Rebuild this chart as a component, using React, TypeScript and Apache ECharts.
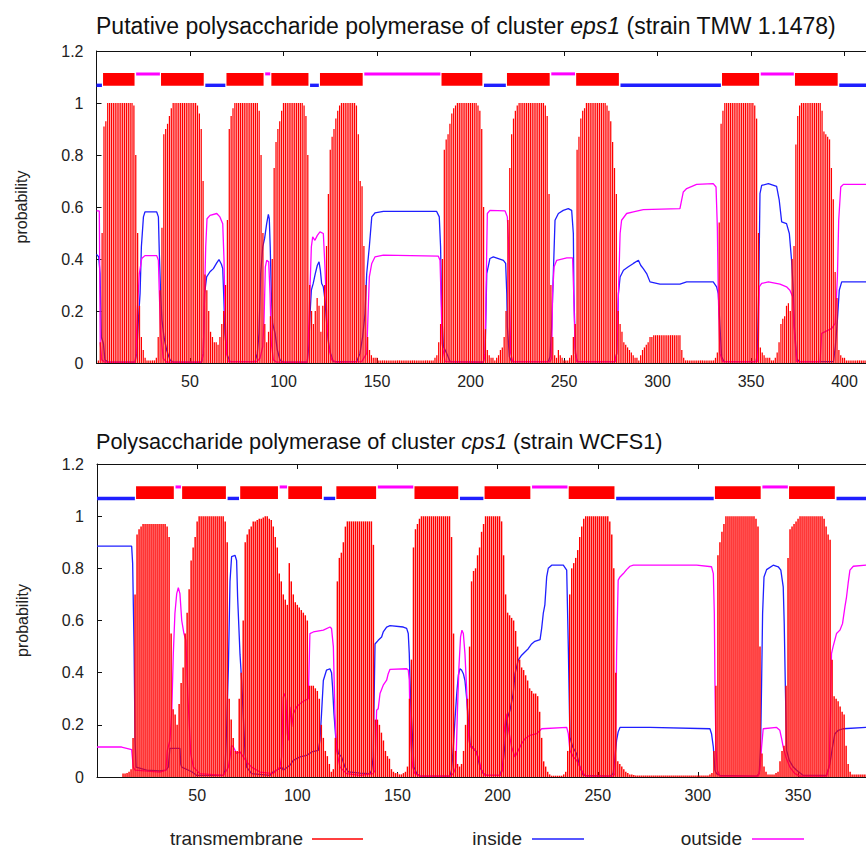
import React, { useEffect, useRef } from 'react';
import * as echarts from 'echarts';

// ---------- DATA ----------
const topTitleMain = 'Putative polysaccharide polymerase of cluster ';
const topTitleItalic = 'eps1';
const topTitleEnd = ' (strain TMW 1.1478)';
const bottomTitleMain = 'Polysaccharide polymerase of cluster ';
const bottomTitleItalic = 'cps1';
const bottomTitleEnd = ' (strain WCFS1)';
const legendNames = ['transmembrane', 'inside', 'outside'];

// transmembrane probability per residue (residue 1..420), eps1 protein
const topTM: number[] = [
  0.01, 0.08, 0.5, 0.91, 0.93, 1.0, 1.0, 1.0, 1.0, 1.0,
  1.0, 1.0, 1.0, 1.0, 1.0, 1.0, 1.0, 1.0, 1.0, 0.99,
  0.8, 0.5, 0.22, 0.1, 0.05, 0.02, 0.01, 0.01, 0.01, 0.01,
  0.01, 0.02, 0.1, 0.28, 0.52, 0.88, 0.9, 0.92, 0.95, 0.98,
  1.0, 1.0, 1.0, 1.0, 1.0, 1.0, 1.0, 1.0, 1.0, 1.0,
  1.0, 1.0, 1.0, 0.99, 0.96, 0.9, 0.7, 0.34, 0.28, 0.2,
  0.12, 0.1, 0.08, 0.08, 0.07, 0.1, 0.15, 0.2, 0.3, 0.55,
  0.9, 0.95, 0.98, 1.0, 1.0, 1.0, 1.0, 1.0, 1.0, 1.0,
  1.0, 1.0, 1.0, 1.0, 1.0, 1.0, 0.97, 0.8, 0.5, 0.15,
  0.08, 0.12, 0.18, 0.4, 0.75, 0.85, 0.9, 0.93, 0.97, 1.0,
  1.0, 1.0, 1.0, 1.0, 1.0, 1.0, 1.0, 1.0, 1.0, 1.0,
  0.99, 0.95, 0.8, 0.3, 0.2, 0.15, 0.2, 0.25, 0.22, 0.12,
  0.22, 0.3, 0.45, 0.65, 0.82, 0.87, 0.9, 0.94, 0.97, 0.99,
  1.0, 1.0, 1.0, 1.0, 1.0, 1.0, 1.0, 1.0, 0.99, 0.88,
  0.7, 0.68, 0.45, 0.3, 0.1, 0.05, 0.03, 0.02, 0.02, 0.02,
  0.01, 0.01, 0.01, 0.01, 0.01, 0.01, 0.01, 0.01, 0.01, 0.01,
  0.01, 0.01, 0.01, 0.01, 0.01, 0.01, 0.01, 0.01, 0.01, 0.01,
  0.01, 0.01, 0.01, 0.01, 0.01, 0.01, 0.01, 0.01, 0.01, 0.01,
  0.02, 0.03, 0.08, 0.15, 0.4, 0.82, 0.86, 0.88, 0.92, 0.96,
  0.98, 0.99, 1.0, 1.0, 1.0, 1.0, 1.0, 1.0, 1.0, 1.0,
  1.0, 1.0, 1.0, 0.99, 0.97, 0.9, 0.6, 0.13, 0.05, 0.03,
  0.02, 0.02, 0.01, 0.02, 0.03, 0.05, 0.06, 0.1, 0.2, 0.55,
  0.75, 0.88, 0.94, 0.97, 0.99, 1.0, 1.0, 1.0, 1.0, 1.0,
  1.0, 1.0, 1.0, 1.0, 1.0, 1.0, 1.0, 1.0, 1.0, 0.99,
  0.95, 0.65, 0.3, 0.1, 0.03, 0.02, 0.05, 0.03, 0.02, 0.01,
  0.01, 0.01, 0.02, 0.03, 0.1, 0.15, 0.82, 0.87, 0.94, 0.97,
  0.98, 1.0, 1.0, 1.0, 1.0, 1.0, 1.0, 1.0, 1.0, 1.0,
  1.0, 1.0, 0.99, 0.97, 0.93, 0.85, 0.75, 0.65, 0.2, 0.15,
  0.12, 0.08, 0.07, 0.06, 0.05, 0.04, 0.03, 0.02, 0.02, 0.01,
  0.03, 0.05, 0.06, 0.07, 0.08, 0.1, 0.1, 0.107, 0.107, 0.107,
  0.107, 0.107, 0.107, 0.107, 0.107, 0.107, 0.107, 0.107, 0.107, 0.107,
  0.107, 0.107, 0.05, 0.02, 0.01, 0.01, 0.01, 0.01, 0.01, 0.01,
  0.01, 0.01, 0.01, 0.01, 0.01, 0.01, 0.01, 0.01, 0.01, 0.01,
  0.02, 0.04, 0.54, 0.92, 0.97, 1.0, 1.0, 1.0, 1.0, 1.0,
  1.0, 1.0, 1.0, 1.0, 1.0, 1.0, 1.0, 1.0, 1.0, 1.0,
  1.0, 0.99, 0.94, 0.5, 0.06, 0.04, 0.03, 0.02, 0.02, 0.02,
  0.01, 0.01, 0.02, 0.04, 0.08, 0.15, 0.17, 0.18, 0.22, 0.23,
  0.2, 0.4, 0.45, 0.84, 0.95, 0.99, 1.0, 1.0, 1.0, 1.0,
  1.0, 1.0, 1.0, 1.0, 1.0, 1.0, 1.0, 0.97, 0.89, 0.88,
  0.87, 0.86, 0.75, 0.63, 0.35, 0.25, 0.05, 0.03, 0.02, 0.02,
  0.01, 0.01, 0.01, 0.01, 0.01, 0.01, 0.01, 0.01, 0.01, 0.01,
  0.01, 0.01, 0.01, 0.01, 0.01, 0.01, 0.01, 0.01, 0.01, 0.01,
];

// [residue, probability] breakpoints of the inside / outside curves, eps1 protein
const topInside: number[][] = [
  [0, 0.418], [1.2, 0.408], [1.9, 0.344], [2.6, 0.1], [3.7, 0.075], [4.5, 0.012], [6.3, 0.003],
  [20.6, 0.003], [21.5, 0.037], [22.4, 0.165], [23.3, 0.267], [24, 0.447], [25.1, 0.562], [25.9, 0.581],
  [32.2, 0.581], [33.1, 0.562], [33.6, 0.421], [34.3, 0.267], [35, 0.165], [36.1, 0.1], [37.5, 0.05],
  [39.3, 0.012], [41.1, 0.003], [56.2, 0.003], [57.1, 0.037], [57.8, 0.267], [58.9, 0.331], [60.7, 0.351],
  [62.5, 0.363], [64.3, 0.385], [65.5, 0.398], [66.8, 0.38], [67.5, 0.363], [68, 0.267], [68.7, 0.114],
  [69.6, 0.037], [71.4, 0.005], [84.8, 0.005], [86, 0.037], [86.9, 0.114], [87.8, 0.344], [88.9, 0.447],
  [89.9, 0.479], [91, 0.536], [91.9, 0.572], [92.4, 0.555], [92.9, 0.447], [93.5, 0.267], [94.2, 0.152],
  [95.5, 0.114], [96.7, 0.05], [98.1, 0.012], [99.9, 0.003], [112.7, 0.003], [113.5, 0.063], [114.2, 0.19],
  [114.9, 0.28], [115.9, 0.306], [117, 0.344], [118.1, 0.376], [119, 0.389], [119.7, 0.357], [120.4, 0.306],
  [121.3, 0.293], [122.2, 0.242], [123.1, 0.152], [124.1, 0.075], [125.2, 0.037], [126.6, 0.005],
  [139.1, 0.005], [140.9, 0.037], [142.3, 0.1], [143.6, 0.19], [144.5, 0.344], [145.9, 0.447], [147.2, 0.562],
  [148.9, 0.577], [153.4, 0.583], [181.9, 0.583], [183.3, 0.562], [184, 0.447], [184.6, 0.2], [185.5, 0.063],
  [187.3, 0.037], [189.1, 0.005], [206.9, 0.003], [207.8, 0.037], [208.7, 0.344], [210.4, 0.402],
  [212.2, 0.408], [217.6, 0.395], [218.8, 0.383], [219.4, 0.267], [219.7, 0.14], [220.8, 0.024], [222, 0.005],
  [241.6, 0.005], [242.5, 0.024], [243.4, 0.14], [244.3, 0.344], [245.2, 0.549], [247, 0.575], [249.6, 0.587],
  [252.3, 0.594], [254.1, 0.587], [255, 0.498], [255.3, 0.267], [256.1, 0.037], [257.1, 0.005],
  [277.3, 0.005], [278.2, 0.037], [279.1, 0.267], [280, 0.331], [281.8, 0.357], [284.4, 0.37], [287.1, 0.383],
  [289.8, 0.395], [291, 0.376], [292.4, 0.363], [294.2, 0.344], [296, 0.312], [301.3, 0.303], [312, 0.303],
  [315.6, 0.312], [329.8, 0.312], [331.6, 0.293], [332.5, 0.267], [333.4, 0.14], [334.3, 0.024], [335.6, 0.005],
  [352.7, 0.005], [353.4, 0.037], [354.1, 0.267], [354.8, 0.651], [355.7, 0.683], [359.3, 0.69], [363.7, 0.679],
  [365.1, 0.626], [366.4, 0.543], [369, 0.536], [370.5, 0.498], [371.7, 0.395], [372.6, 0.28], [373.2, 0.14],
  [374.4, 0.018], [375.8, 0.005], [394.1, 0.005], [395.1, 0.063], [396.2, 0.165], [397.2, 0.28],
  [398.5, 0.312], [420, 0.312],
];
const topOutside: number[][] = [
  [0, 0.585], [1.5, 0.585], [2.0, 0.075], [2.8, 0.012], [4.5, 0.003], [20.6, 0.003], [21.1, 0.037],
  [21.8, 0.2], [22.9, 0.344], [24.2, 0.402], [25.9, 0.413], [32.2, 0.413], [33.1, 0.395], [33.6, 0.267],
  [34.3, 0.114], [35.7, 0.018], [37.5, 0.003], [56.2, 0.003], [57.1, 0.037], [57.8, 0.267], [58.4, 0.447],
  [59.1, 0.555], [60.7, 0.568], [64.3, 0.575], [66, 0.562], [67.5, 0.536], [68.2, 0.395], [68.7, 0.2],
  [69.6, 0.037], [70.5, 0.005], [85.6, 0.005], [87.4, 0.018], [88.9, 0.063], [89.6, 0.165], [90.3, 0.37],
  [91, 0.395], [92.1, 0.389], [92.8, 0.267], [93.5, 0.075], [94.6, 0.012], [96.3, 0.003], [112.7, 0.003],
  [113.5, 0.14], [114.2, 0.293], [114.9, 0.447], [115.6, 0.485], [116.8, 0.472], [118.1, 0.491],
  [119.5, 0.504], [121.3, 0.498], [122, 0.395], [122.7, 0.267], [123.4, 0.14], [124.5, 0.05], [125.8, 0.012],
  [128.4, 0.003], [141.8, 0.005], [144.5, 0.037], [145.9, 0.331], [147.2, 0.383], [148.9, 0.408],
  [153.4, 0.415], [182.8, 0.411], [183.7, 0.395], [184.2, 0.267], [184.8, 0.075], [186.4, 0.005],
  [206.9, 0.003], [207.8, 0.037], [208.3, 0.267], [209, 0.575], [210.4, 0.587], [218.5, 0.585],
  [219.7, 0.562], [220.3, 0.472], [220.8, 0.267], [221.5, 0.037], [222.6, 0.005], [242.5, 0.005],
  [243.4, 0.018], [243.9, 0.267], [244.7, 0.37], [246.1, 0.395], [251.5, 0.404], [254.6, 0.404],
  [255.2, 0.267], [255.9, 0.063], [256.8, 0.005], [277.3, 0.005], [278.2, 0.037], [279.1, 0.267],
  [280, 0.498], [280.8, 0.549], [283.5, 0.575], [287.1, 0.581], [292.4, 0.59], [312, 0.594], [312.9, 0.626],
  [313.8, 0.658], [315.6, 0.671], [320.9, 0.687], [329.8, 0.69], [331.3, 0.677], [332, 0.523], [332.5, 0.267],
  [333.4, 0.037], [334.8, 0.005], [353.4, 0.005], [353.9, 0.063], [354.4, 0.293], [355.7, 0.306],
  [359.3, 0.312], [365.5, 0.303], [369, 0.293], [370.8, 0.28], [372.3, 0.255], [373, 0.14], [374.4, 0.005],
  [386.9, 0.005], [387.8, 0.114], [393.2, 0.133], [395, 0.152], [396.2, 0.331], [396.9, 0.549],
  [398, 0.677], [399.4, 0.687], [420, 0.687],
];

// topology: [first residue, last residue, kind]  (i = inside, M = membrane, o = outside)
const topTopology: [number, number, string][] = [
  [1, 3, 'i'], [4, 20, 'M'], [21, 34, 'o'], [35, 57, 'M'], [58, 69, 'i'], [70, 89, 'M'], [90, 93, 'o'],
  [94, 113, 'M'], [114, 119, 'i'], [120, 142, 'M'], [143, 184, 'o'], [185, 206, 'M'], [207, 219, 'i'],
  [220, 242, 'M'], [243, 256, 'o'], [257, 279, 'M'], [280, 334, 'i'], [335, 354, 'M'], [355, 373, 'o'],
  [374, 396, 'M'], [397, 420, 'i'],
];

// transmembrane probability per residue (residue 1..400), cps1 protein
const bottomTM: number[] = [
  0, 0, 0, 0, 0, 0, 0, 0, 0, 0,
  0, 0, 0.013, 0.013, 0.015, 0.02, 0.03, 0.15, 0.7, 0.93,
  0.95, 0.96, 0.97, 0.97, 0.97, 0.97, 0.97, 0.97, 0.97, 0.97,
  0.97, 0.97, 0.97, 0.97, 0.96, 0.92, 0.55, 0.26, 0.24, 0.2,
  0.28, 0.36, 0.42, 0.55, 0.63, 0.72, 0.83, 0.88, 0.92, 0.98,
  1.0, 1.0, 1.0, 1.0, 1.0, 1.0, 1.0, 1.0, 1.0, 1.0,
  1.0, 1.0, 1.0, 0.98, 0.9, 0.3, 0.22, 0.15, 0.1, 0.1,
  0.3, 0.4, 0.6, 0.9, 0.93, 0.95, 0.96, 0.98, 0.98, 0.985,
  0.99, 0.99, 0.995, 1.0, 1.0, 0.99, 0.985, 0.96, 0.92, 0.88,
  0.78, 0.75, 0.7, 0.68, 0.66, 0.82, 0.75, 0.7, 0.67, 0.66,
  0.65, 0.64, 0.63, 0.62, 0.6, 0.35, 0.35, 0.35, 0.34, 0.33,
  0.3, 0.2, 0.15, 0.1, 0.08, 0.05, 0.02, 0.03, 0.15, 0.75,
  0.84, 0.86, 0.9, 0.96, 0.98, 0.98, 0.98, 0.98, 0.98, 0.98,
  0.98, 0.98, 0.98, 0.98, 0.98, 0.98, 0.98, 0.89, 0.22, 0.22,
  0.2, 0.17, 0.14, 0.1, 0.08, 0.07, 0.03, 0.02, 0.015, 0.015,
  0.01, 0.01, 0.015, 0.02, 0.04, 0.3, 0.45, 0.88, 0.95, 0.97,
  0.99, 1.0, 1.0, 1.0, 1.0, 1.0, 1.0, 1.0, 1.0, 1.0,
  1.0, 1.0, 1.0, 1.0, 1.0, 1.0, 0.92, 0.55, 0.1, 0.05,
  0.04, 0.05, 0.1, 0.2, 0.3, 0.5, 0.75, 0.79, 0.8, 0.85,
  0.88, 0.94, 0.97, 1.0, 1.0, 1.0, 1.0, 1.0, 1.0, 1.0,
  1.0, 0.98, 0.85, 0.7, 0.63, 0.62, 0.61, 0.6, 0.56, 0.5,
  0.45, 0.42, 0.41, 0.39, 0.37, 0.34, 0.33, 0.32, 0.32, 0.31,
  0.25, 0.15, 0.06, 0.04, 0.02, 0.01, 0.005, 0.005, 0.005, 0.005,
  0.005, 0.005, 0.01, 0.02, 0.1, 0.7, 0.8, 0.82, 0.84, 0.87,
  0.92, 0.96, 0.99, 1.0, 1.0, 1.0, 1.0, 1.0, 1.0, 1.0,
  1.0, 1.0, 1.0, 1.0, 1.0, 0.98, 0.93, 0.8, 0.4, 0.06,
  0.05, 0.04, 0.03, 0.02, 0.015, 0.01, 0.01, 0.008, 0.006, 0.006,
  0.006, 0.006, 0.006, 0.006, 0.006, 0.006, 0.006, 0.006, 0.006, 0.006,
  0.006, 0.006, 0.006, 0.006, 0.006, 0.006, 0.006, 0.006, 0.006, 0.006,
  0.006, 0.006, 0.006, 0.006, 0.006, 0.006, 0.006, 0.006, 0.006, 0.006,
  0.006, 0.006, 0.006, 0.006, 0.006, 0.01, 0.015, 0.1, 0.35, 0.85,
  0.9, 0.94, 0.97, 1.0, 1.0, 1.0, 1.0, 1.0, 1.0, 1.0,
  1.0, 1.0, 1.0, 1.0, 1.0, 1.0, 1.0, 1.0, 0.99, 0.96,
  0.5, 0.09, 0.04, 0.02, 0.01, 0.01, 0.01, 0.01, 0.015, 0.02,
  0.06, 0.1, 0.12, 0.35, 0.84, 0.95, 0.96, 0.97, 0.98, 0.99,
  1.0, 1.0, 1.0, 1.0, 1.0, 1.0, 1.0, 1.0, 1.0, 1.0,
  1.0, 1.0, 0.99, 0.96, 0.93, 0.91, 0.45, 0.31, 0.3, 0.29,
  0.27, 0.25, 0.24, 0.12, 0.05, 0.02, 0.01, 0.01, 0.01, 0.01,
  0.01, 0.01, 0.01, 0.01, 0.01, 0.01, 0.01, 0.01, 0.01, 0.01,
  0.01, 0.01, 0.01, 0.01, 0.01, 0.01, 0.01, 0.01, 0.01, 0.01,
];

const bottomInside: number[][] = [
  [0, 0.885], [17.3, 0.885], [17.8, 0.818], [18.5, 0.5], [19, 0.14], [19.5, 0.038], [24.8, 0.026],
  [31.4, 0.023], [34.4, 0.026], [35.6, 0.038], [36.4, 0.11], [41.4, 0.11], [41.8, 0.05], [42.3, 0.038],
  [47.3, 0.02], [49.8, 0.006], [63.1, 0.006], [63.9, 0.026], [64.7, 0.18], [65.6, 0.42], [66.4, 0.75],
  [67.2, 0.845], [68.9, 0.85], [69.7, 0.83], [70.2, 0.69], [71.4, 0.47], [72.2, 0.37], [73, 0.24],
  [73.9, 0.09], [74.7, 0.038], [77.2, 0.013], [86.4, 0.006], [88, 0.02], [89.7, 0.026], [92.2, 0.038],
  [93, 0.026], [96.3, 0.045], [98, 0.064], [101.3, 0.077], [104.7, 0.083], [107.2, 0.096], [110.5, 0.102],
  [111.3, 0.14], [112.1, 0.243], [113, 0.37], [114.6, 0.41], [116.3, 0.415], [117.1, 0.4], [117.6, 0.345],
  [118.3, 0.243], [119.3, 0.14], [120.5, 0.09], [122.1, 0.077], [123.8, 0.038], [125.5, 0.02],
  [131.3, 0.015], [136.3, 0.013], [137.1, 0.026], [137.9, 0.077], [138.8, 0.51], [140.4, 0.524],
  [142.1, 0.537], [142.9, 0.556], [144.6, 0.575], [146.3, 0.58], [152.9, 0.575], [154.6, 0.57],
  [155.4, 0.55], [155.9, 0.473], [156.2, 0.384], [156.7, 0.27], [157.6, 0.14], [158.2, 0.038],
  [159.6, 0.013], [161.2, 0.003], [176.2, 0.003], [177, 0.026], [177.9, 0.115], [178.7, 0.217],
  [179.6, 0.32], [180.4, 0.39], [181.2, 0.415], [182, 0.41], [182.9, 0.396], [183.7, 0.37], [184.5, 0.307],
  [185.4, 0.217], [186.2, 0.128], [187.9, 0.109], [189.5, 0.096], [191.2, 0.038], [192.9, 0.013],
  [194.5, 0.006], [201.2, 0.006], [202, 0.026], [202.9, 0.064], [203.7, 0.128], [204.5, 0.217],
  [206.2, 0.256], [207.8, 0.32], [208.7, 0.396], [210.3, 0.448], [212, 0.467], [215.3, 0.492], [217, 0.51],
  [218.6, 0.52], [221.2, 0.527], [222, 0.57], [222.8, 0.627], [223.6, 0.66], [224.5, 0.767], [225.3, 0.8],
  [227, 0.812], [232.8, 0.812], [234.5, 0.793], [235.3, 0.5], [236.1, 0.153], [237.5, 0.115],
  [239.4, 0.09], [241.1, 0.038], [242.8, 0.006], [256.1, 0.003], [257.7, 0.013], [258.6, 0.077],
  [259.4, 0.14], [260.2, 0.173], [261.1, 0.19], [276.1, 0.19], [306, 0.185], [306.8, 0.166], [307.7, 0.115],
  [308.5, 0.026], [309.3, 0.013], [311, 0.006], [329.3, 0.003], [330.6, 0.013], [331.3, 0.115],
  [331.8, 0.358], [332.3, 0.627], [333, 0.767], [334.3, 0.795], [337.6, 0.812], [340.1, 0.806],
  [341.4, 0.793], [342.6, 0.729], [343.1, 0.588], [343.6, 0.37], [344.3, 0.102], [345.6, 0.064],
  [347.6, 0.038], [349.3, 0.026], [352.6, 0.006], [364.2, 0.006], [365.9, 0.05], [367.2, 0.115],
  [368.4, 0.166], [370.1, 0.179], [372.5, 0.185], [383.9, 0.19], [400, 0.19],
];
const bottomOutside: number[][] = [
  [0, 0.115], [12.3, 0.115], [17.3, 0.105], [18.1, 0.038], [19, 0.026], [31.4, 0.019], [34.4, 0.026],
  [35.1, 0.102], [36.4, 0.14], [37.3, 0.243], [38.1, 0.473], [38.9, 0.627], [39.8, 0.703], [40.6, 0.726],
  [41.4, 0.703], [42.3, 0.6], [43.4, 0.55], [44.4, 0.524], [45.3, 0.32], [45.8, 0.243], [46.8, 0.09],
  [48.1, 0.038], [51.4, 0.013], [63.1, 0.006], [64.7, 0.026], [65.6, 0.038], [66.4, 0.077], [67.2, 0.121],
  [68.1, 0.115], [69.7, 0.09], [71.4, 0.096], [73, 0.077], [74.7, 0.058], [77.2, 0.038], [81.4, 0.019],
  [88, 0.013], [89.7, 0.026], [91.3, 0.038], [92.2, 0.077], [93, 0.307], [93.8, 0.32], [94.3, 0.294],
  [95, 0.166], [95.5, 0.14], [96.3, 0.269], [97.2, 0.192], [98, 0.243], [99.7, 0.269], [101.3, 0.281],
  [103.8, 0.294], [105.5, 0.3], [106.3, 0.55], [108, 0.556], [113, 0.563], [116.3, 0.575], [117.1, 0.569],
  [118, 0.5], [118.8, 0.243], [119.6, 0.102], [121.3, 0.038], [124.6, 0.013], [131.3, 0.006],
  [137.9, 0.013], [138.8, 0.026], [139.6, 0.256], [140.4, 0.262], [141.3, 0.32], [142.9, 0.352],
  [144.6, 0.371], [145.4, 0.396], [146.3, 0.413], [154.6, 0.415], [155.4, 0.41], [155.9, 0.371],
  [156.2, 0.243], [156.7, 0.128], [157.6, 0.038], [158.7, 0.013], [161.2, 0.003], [176.2, 0.003],
  [177.9, 0.013], [179.2, 0.038], [179.9, 0.243], [180.7, 0.422], [181.5, 0.537], [182.2, 0.563],
  [182.9, 0.55], [183.7, 0.473], [184.5, 0.345], [185, 0.243], [185.7, 0.14], [186.5, 0.115],
  [188.7, 0.105], [190.3, 0.077], [192, 0.026], [193.7, 0.006], [201.2, 0.006], [202.5, 0.026],
  [203.2, 0.166], [204.2, 0.243], [205.4, 0.185], [207, 0.115], [208.7, 0.077], [210.3, 0.102],
  [212, 0.128], [213.7, 0.147], [216.1, 0.16], [219.5, 0.166], [222, 0.185], [234.5, 0.19], [235.3, 0.166],
  [236.1, 0.102], [237.8, 0.077], [239.4, 0.064], [241.1, 0.038], [242.8, 0.013], [244.5, 0.003],
  [257.7, 0.003], [258.6, 0.013], [259.1, 0.243], [259.4, 0.473], [260.2, 0.755], [261.1, 0.767],
  [262.8, 0.78], [264.4, 0.795], [266.1, 0.808], [267.8, 0.812], [299.4, 0.812], [306.8, 0.806],
  [307.7, 0.78], [308.2, 0.627], [308.5, 0.37], [309, 0.115], [309.7, 0.026], [311, 0.003], [330.1, 0.003],
  [330.9, 0.026], [331.8, 0.115], [332.6, 0.185], [339.3, 0.19], [340.9, 0.179], [341.8, 0.147],
  [342.6, 0.115], [343.9, 0.077], [345.9, 0.038], [348.4, 0.013], [350.9, 0.003], [364.2, 0.003],
  [365.5, 0.038], [366.2, 0.243], [366.7, 0.473], [367.5, 0.5], [369.2, 0.55], [370.9, 0.563],
  [372.2, 0.588], [373.4, 0.652], [374.2, 0.69], [375, 0.742], [375.9, 0.793], [377.6, 0.808],
  [383.9, 0.812], [400, 0.812],
];

const bottomTopology: [number, number, string][] = [
  [1, 19, 'i'], [20, 38, 'M'], [39, 42, 'o'], [43, 64, 'M'], [65, 71, 'i'], [72, 90, 'M'], [91, 95, 'o'],
  [96, 112, 'M'], [113, 119, 'i'], [120, 139, 'M'], [140, 158, 'o'], [159, 180, 'M'], [181, 193, 'i'],
  [194, 216, 'M'], [217, 235, 'o'], [236, 258, 'M'], [259, 308, 'i'], [309, 331, 'M'], [332, 345, 'o'],
  [346, 368, 'M'], [369, 400, 'i'],
];

const topLength = 420;
const bottomLength = 400;

// ---------- STYLE ----------
const FONT = '"Liberation Sans", Arial, Helvetica, sans-serif';
const RED = '#ff0000';
const BLUE = '#1f1fff';
const MAGENTA = '#ff00ff';
const AXIS = '#111111';
const CANVAS_W = 940;

const kindCode: Record<string, number> = { i: 0, M: 1, o: 2 };

function topoRender(params: any, api: any) {
  const s = api.value(0);
  const e = api.value(1);
  const k = api.value(3);
  if (k === 1) {
    const p1 = api.coord([s - 0.5, 1.115]);
    const p2 = api.coord([e + 0.35, 1.066]);
    return {
      type: 'rect',
      shape: { x: p1[0], y: p1[1], width: p2[0] - p1[0], height: p2[1] - p1[1] },
      style: { fill: RED },
    };
  }
  const yv = k === 0 ? 1.068 : 1.112;
  const s0 = s === 1 ? 0 : s + 0.2;
  const p1 = api.coord([s0, yv]);
  const p2 = api.coord([e - 0.1, yv]);
  const h = k === 0 ? 3.4 : 3.0;
  return {
    type: 'rect',
    shape: { x: p1[0], y: p1[1] - h / 2, width: p2[0] - p1[0], height: h },
    style: { fill: k === 0 ? BLUE : MAGENTA },
  };
}

// impulses (one thin red stroke per residue) drawn through the axes' scales
function impulseRender(width: number) {
  return (params: any, api: any) => {
    const x = api.value(0);
    const y = api.value(1);
    if (!(y > 0)) return null;
    const p0 = api.coord([x, 0]);
    const p1 = api.coord([x, y]);
    return {
      type: 'rect',
      shape: { x: p0[0] - width / 2, y: p1[1], width, height: p0[1] - p1[1] },
      style: { fill: RED },
    };
  };
}

function xAxes(gridIndex: number, max: number, lastLabel: number) {
  const base = {
    gridIndex,
    type: 'value' as const,
    min: 0,
    max,
    interval: 50,
    splitLine: { show: false },
    axisLine: { show: true, onZero: false, lineStyle: { color: AXIS, width: 1 } },
    axisTick: { show: true, inside: true, length: 5, lineStyle: { color: AXIS, width: 1 } },
  };
  return [
    {
      ...base,
      position: 'bottom',
      axisLabel: {
        show: true,
        fontSize: 16,
        fontFamily: FONT,
        color: '#222',
        margin: 10,
        formatter: (v: number) => (v === 0 || v % 50 !== 0 || v > lastLabel ? '' : String(v)),
      },
    },
    { ...base, position: 'top', axisLabel: { show: false } },
  ];
}

function yAxis(gridIndex: number) {
  return {
    gridIndex,
    type: 'value' as const,
    min: 0,
    max: 1.2,
    interval: 0.2,
    name: 'probability',
    nameLocation: 'middle',
    nameGap: 67,
    nameTextStyle: { fontSize: 16, fontFamily: FONT, color: '#222' },
    splitLine: { show: false },
    axisLine: { show: true, lineStyle: { color: AXIS, width: 1 } },
    axisTick: { show: true, inside: true, length: 5, lineStyle: { color: AXIS, width: 1 } },
    axisLabel: {
      fontSize: 16,
      fontFamily: FONT,
      color: '#222',
      margin: 13,
      formatter: (v: number) => String(Number(v.toFixed(1))),
    },
  };
}

function plotSeries(xi: number, yi: number, tm: number[], inside: number[][], outside: number[][], topo: [number, number, string][], barW: number) {
  return [
    {
      type: 'line',
      name: 'inside',
      xAxisIndex: xi,
      yAxisIndex: yi,
      data: inside,
      showSymbol: false,
      lineStyle: { color: BLUE, width: 1.3 },
      itemStyle: { color: BLUE },
      z: 2,
    },
    {
      type: 'line',
      name: 'outside',
      xAxisIndex: xi,
      yAxisIndex: yi,
      data: outside,
      showSymbol: false,
      lineStyle: { color: MAGENTA, width: 1.3 },
      itemStyle: { color: MAGENTA },
      z: 2,
    },
    {
      type: 'custom',
      name: 'transmembrane',
      xAxisIndex: xi,
      yAxisIndex: yi,
      renderItem: impulseRender(barW),
      encode: { x: 0, y: 1 },
      data: tm.map((v, i) => [i + 1, v]),
      z: 3,
      clip: true,
    },
    {
      type: 'custom',
      xAxisIndex: xi,
      yAxisIndex: yi,
      renderItem: topoRender,
      encode: { x: [0, 1], y: 2 },
      data: topo.map((t) => [t[0], t[1], 1.09, kindCode[t[2]]]),
      z: 4,
      clip: true,
    },
  ];
}

function legendGraphics() {
  const items = [
    { name: legendNames[0], tx: 303, x1: 312, x2: 363, color: RED },
    { name: legendNames[1], tx: 522, x1: 532, x2: 584, color: BLUE },
    { name: legendNames[2], tx: 742, x1: 752, x2: 804, color: MAGENTA },
  ];
  const out: any[] = [];
  items.forEach((it) => {
    out.push({
      type: 'text',
      x: it.tx,
      y: 838,
      style: {
        text: it.name,
        fill: '#222',
        font: `19px ${FONT}`,
        align: 'right',
        verticalAlign: 'middle',
      },
    });
    out.push({
      type: 'line',
      shape: { x1: it.x1, y1: 839, x2: it.x2, y2: 839 },
      style: { stroke: it.color, lineWidth: 1.5 },
    });
  });
  return out;
}

export default function App() {
  const ref = useRef<HTMLDivElement>(null);
  useEffect(() => {
    if (!ref.current) return;
    const chart = echarts.init(ref.current, undefined, { renderer: 'svg' });
    const topW = topLength * 1.87;
    const botW = bottomLength * 2.003;
    const titleRich = (size: number) => ({
      a: { fontSize: size, fontFamily: FONT, color: '#111', fontWeight: 'normal' },
      b: { fontSize: size, fontFamily: FONT, color: '#111', fontWeight: 'normal', fontStyle: 'italic' },
    });
    chart.setOption({
      animation: false,
      backgroundColor: '#ffffff',
      title: [
        {
          text: `{a|${topTitleMain}}{b|${topTitleItalic}}{a|${topTitleEnd}}`,
          left: 91,
          top: 9,
          textStyle: { fontWeight: 'normal', rich: titleRich(23) },
        },
        {
          text: `{a|${bottomTitleMain}}{b|${bottomTitleItalic}}{a|${bottomTitleEnd}}`,
          left: 91,
          top: 425,
          textStyle: { fontWeight: 'normal', rich: titleRich(21.7) },
        },
      ],
      grid: [
        { left: 96.5, top: 51, width: topW, height: 312 },
        { left: 97, top: 464, width: botW, height: 313 },
      ],
      xAxis: [...xAxes(0, topLength, 400), ...xAxes(1, bottomLength, 350)],
      yAxis: [yAxis(0), yAxis(1)],
      series: [
        ...plotSeries(0, 0, topTM, topInside, topOutside, topTopology, 1.25),
        ...plotSeries(2, 1, bottomTM, bottomInside, bottomOutside, bottomTopology, 1.45),
      ],
      graphic: legendGraphics(),
    });
    return () => chart.dispose();
  }, []);
  return (
    <div style={{ position: 'absolute', left: 0, top: 0, width: 866, height: 847, overflow: 'hidden', background: '#fff' }}>
      <div ref={ref} style={{ width: CANVAS_W, height: 847 }} />
    </div>
  );
}
